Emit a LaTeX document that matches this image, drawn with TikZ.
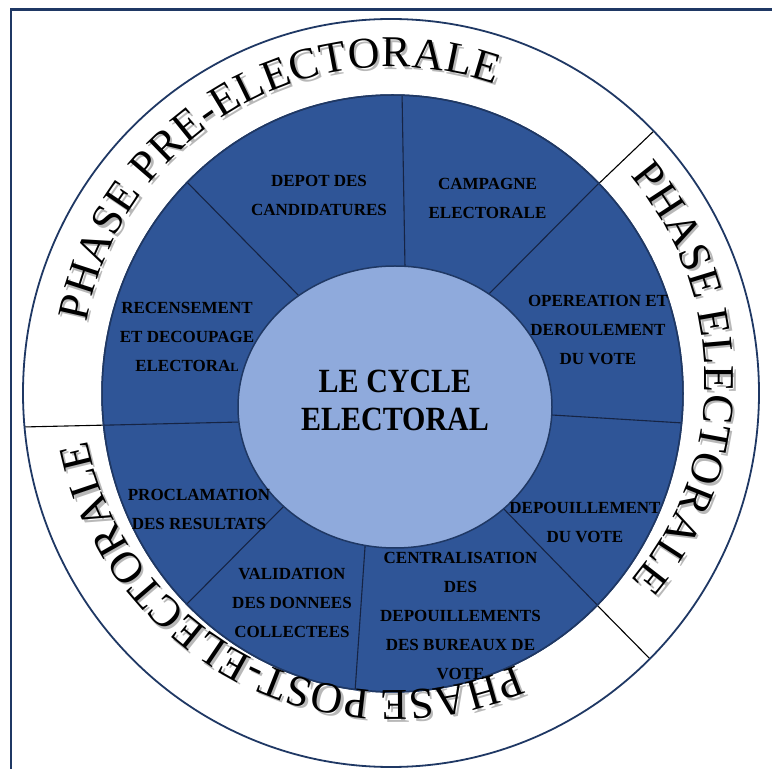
\documentclass[tikz,border=0pt]{standalone}
\usepackage{fontspec}
\setmainfont{Liberation Serif}
\usetikzlibrary{decorations.text}
\definecolor{ringblue}{RGB}{47,85,151}
\definecolor{lightblue}{RGB}{143,170,220}
\definecolor{navy}{RGB}{31,56,100}
\definecolor{sepline}{RGB}{22,36,68}
\newcommand{\phasefont}{\fontsize{44}{44}\selectfont}
\begin{document}
\begin{tikzpicture}[x=1pt,y=1pt,
  seclabel/.style={align=center, font=\fontsize{17}{29}\selectfont\bfseries, text=black, inner sep=0pt},
  titlelabel/.style={align=center, font=\fontsize{30}{33}\selectfont\bfseries, text=black, inner sep=0pt},
  sepstyle/.style={draw=sepline, line width=1.1pt},
  phasesep/.style={draw=black, line width=1.1pt}]
\useasboundingbox (0,0) rectangle (772,769);
\fill[white] (0,0) rectangle (772,769);
% frame
\draw[navy, line width=2.3pt] (11,-5) -- (11,759.5) -- (780,759.5);
% outer circle
\coordinate (oc) at (391,376);
\fill[white] (oc) ellipse[x radius=368, y radius=374];
\begin{scope}
  \clip (oc) ellipse[x radius=368, y radius=374];
  \coordinate (pa1) at (590,577);
  \coordinate (pa2) at (657,641);
  \coordinate (pb1) at (590,171);
  \coordinate (pb2) at (656,104);
  \coordinate (pc1) at (14,341.8);
  \coordinate (pc2) at (110,344);
  \draw[phasesep] (pa1) -- (pa2);
  \draw[phasesep] (pb1) -- (pb2);
  \draw[phasesep] (pc1) -- (pc2);
\end{scope}
\draw[navy, line width=1.8pt] (oc) ellipse[x radius=368, y radius=374];
% blue ring
\coordinate (bc) at (392.5,375.5);
\filldraw[fill=ringblue, draw=navy, line width=1.5pt] (bc) ellipse[x radius=290.5, y radius=298.5];
\begin{scope}
  \clip (bc) ellipse[x radius=290.5, y radius=298.5];
  \coordinate (s1o) at (401.8,690); \coordinate (s1i) at (405.2,490);
  \coordinate (s2o) at (605,592);   \coordinate (s2i) at (483,469);
  \coordinate (s3o) at (693,345.4); \coordinate (s3i) at (542,354.6);
  \coordinate (s4o) at (605,156);   \coordinate (s4i) at (498,266);
  \coordinate (s5o) at (354.3,67);  \coordinate (s5i) at (365.7,232);
  \coordinate (s6o) at (181,159);   \coordinate (s6i) at (290,269);
  \coordinate (s7o) at (95,343.6);  \coordinate (s7i) at (245,347.1);
  \coordinate (s8o) at (181,593);   \coordinate (s8i) at (305,467);
  \foreach \s in {1,...,8} {\draw[sepstyle] (s\s o) -- (s\s i);}
\end{scope}
\draw[navy, line width=1.5pt] (bc) ellipse[x radius=290.5, y radius=298.5];
% inner ellipse
\filldraw[fill=lightblue, draw=navy, line width=1.5pt] (395,362) ellipse[x radius=157, y radius=141];
% sector labels
\node[seclabel] (depot) at (319,574) {DEPOT DES\\CANDIDATURES};
\node[seclabel] (campagne) at (487.5,571) {CAMPAGNE\\ELECTORALE};
\node[seclabel] (operation) at (598,439) {OPEREATION ET\\DEROULEMENT\\DU VOTE};
\node[seclabel] (recens) at (187,432) {RECENSEMENT\\ET DECOUPAGE\\ELECTORA{\fontsize{12.5}{12.5}\selectfont L}};
\node[seclabel] (procl) at (199,260) {PROCLAMATION\\DES RESULTATS};
\node[seclabel] (valid) at (292,166) {VALIDATION\\DES DONNEES\\COLLECTEES};
\node[seclabel] (central) at (460.5,153) {CENTRALISATION\\DES\\DEPOUILLEMENTS\\DES BUREAUX DE\\VOTE};
\node[seclabel] (depouil) at (585,246.5) {DEPOUILLEMENT\\DU VOTE};
\node[titlelabel] (title) at (395,368.5) {\scalebox{1}[1.13]{\parbox{200pt}{\centering LE CYCLE\\ELECTORAL}}};
% phase labels (shadow, then text)
\coordinate (tcs) at (395.5,387.5);
\coordinate (tc) at (393,390);
\path[decorate, decoration={text along path, text align={fit to path},
  text={|\phasefont\color{black!28}|PHASE PRE-ELECTORALE}}]
  ([shift={(169.5:312)}]tcs) arc[start angle=169.5, end angle=70.8, radius=312];
\path[decorate, decoration={text along path, text align={fit to path},
  text={|\phasefont\color{black!28}|PHASE ELECTORALE}}]
  ([shift={(40.6:312)}]tcs) arc[start angle=40.6, end angle=-40.3, radius=312];
\path[decorate, decoration={text along path, text align={fit to path},
  text={|\phasefont\color{black!28}|PHASE POST-ELECTORALE}}]
  ([shift={(-66.6:312)}]tcs) arc[start angle=-66.6, end angle=-168.1, radius=312];
\path[decorate, decoration={text along path, text align={fit to path},
  text={|\phasefont\color{black}|PHASE PRE-ELECTORALE}}]
  ([shift={(169.5:312)}]tc) arc[start angle=169.5, end angle=70.8, radius=312];
\path[decorate, decoration={text along path, text align={fit to path},
  text={|\phasefont\color{black}|PHASE ELECTORALE}}]
  ([shift={(40.6:312)}]tc) arc[start angle=40.6, end angle=-40.3, radius=312];
\path[decorate, decoration={text along path, text align={fit to path},
  text={|\phasefont\color{black}|PHASE POST-ELECTORALE}}]
  ([shift={(-66.6:312)}]tc) arc[start angle=-66.6, end angle=-168.1, radius=312];
\end{tikzpicture}
\end{document}
